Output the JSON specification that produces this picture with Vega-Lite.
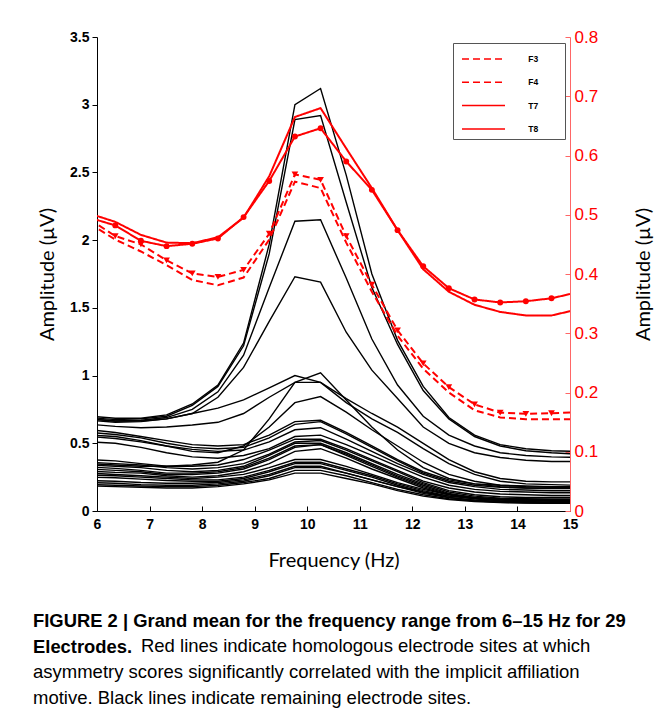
{
  "$schema": "https://vega.github.io/schema/vega-lite/v6.json",
  "width": 473,
  "height": 474,
  "autosize": {"type": "none"},
  "padding": {"left": 97, "top": 37, "right": 92, "bottom": 205},
  "background": "white",
  "config": {"view": {"stroke": null}, "axis": {"grid": false}},
  "title": {
    "text": ["FIGURE 2 | Grand mean for the frequency range from 6–15 Hz for 29", "Electrodes."],
    "subtitle": ["\u200b\u00a0\u00a0\u00a0\u00a0\u00a0\u00a0\u00a0\u00a0\u00a0\u00a0\u00a0\u00a0\u00a0\u00a0\u00a0\u00a0\u00a0\u00a0\u00a0\u00a0\u00a0Red lines indicate homologous electrode sites at which", "asymmetry scores significantly correlated with the implicit affiliation", "motive. Black lines indicate remaining electrode sites."],
    "orient": "bottom",
    "anchor": "start",
    "frame": "group",
    "dx": -64,
    "offset": 42,
    "font": "Liberation Sans",
    "fontSize": 18.4,
    "fontWeight": "bold",
    "lineHeight": 26,
    "color": "black",
    "subtitleFont": "Liberation Sans",
    "subtitleFontSize": 18.5,
    "subtitleFontWeight": "normal",
    "subtitleLineHeight": 26,
    "subtitleColor": "black",
    "subtitlePadding": -19
  },
  "data": {"values": [
    {"f":5.859,"L1":0.70,"L2":0.69,"L3":0.68,"L4":0.67,"M1":0.68,"M2":0.64,"M3":0.35,"M4":0.56,"N1":0.60,"N2":0.58,"N3":0.55,"N4":0.51,"P1":0.38,"P2":0.36,"P3":0.34,"P4":0.325,"P5":0.31,"P6":0.295,"P7":0.28,"P8":0.265,"P9":0.25,"P10":0.225,"P11":0.21,"P12":0.195,"P13":0.185,"F3":0.485,"F4":0.492,"T7":0.502,"T8":0.495},
    {"f":6.348,"L1":0.685,"L2":0.675,"L3":0.665,"L4":0.655,"M1":0.665,"M2":0.625,"M3":0.34,"M4":0.55,"N1":0.58,"N2":0.565,"N3":0.535,"N4":0.50,"P1":0.37,"P2":0.35,"P3":0.33,"P4":0.315,"P5":0.30,"P6":0.285,"P7":0.27,"P8":0.26,"P9":0.245,"P10":0.22,"P11":0.205,"P12":0.19,"P13":0.18,"F3":0.458,"F4":0.464,"T7":0.488,"T8":0.482},
    {"f":6.836,"L1":0.685,"L2":0.68,"L3":0.67,"L4":0.66,"M1":0.665,"M2":0.615,"M3":0.33,"M4":0.52,"N1":0.55,"N2":0.54,"N3":0.51,"N4":0.47,"P1":0.35,"P2":0.34,"P3":0.32,"P4":0.30,"P5":0.29,"P6":0.28,"P7":0.26,"P8":0.25,"P9":0.235,"P10":0.21,"P11":0.195,"P12":0.185,"P13":0.175,"F3":0.438,"F4":0.450,"T7":0.466,"T8":0.456},
    {"f":7.324,"L1":0.71,"L2":0.70,"L3":0.69,"L4":0.68,"M1":0.68,"M2":0.62,"M3":0.33,"M4":0.48,"N1":0.52,"N2":0.50,"N3":0.48,"N4":0.43,"P1":0.33,"P2":0.32,"P3":0.30,"P4":0.28,"P5":0.27,"P6":0.26,"P7":0.25,"P8":0.24,"P9":0.225,"P10":0.205,"P11":0.19,"P12":0.18,"P13":0.17,"F3":0.415,"F4":0.423,"T7":0.453,"T8":0.447},
    {"f":7.813,"L1":0.79,"L2":0.78,"L3":0.75,"L4":0.72,"M1":0.72,"M2":0.635,"M3":0.34,"M4":0.44,"N1":0.49,"N2":0.47,"N3":0.455,"N4":0.40,"P1":0.33,"P2":0.31,"P3":0.29,"P4":0.28,"P5":0.27,"P6":0.25,"P7":0.24,"P8":0.23,"P9":0.22,"P10":0.205,"P11":0.19,"P12":0.18,"P13":0.17,"F3":0.390,"F4":0.401,"T7":0.452,"T8":0.451},
    {"f":8.301,"L1":0.93,"L2":0.92,"L3":0.88,"L4":0.84,"M1":0.76,"M2":0.655,"M3":0.36,"M4":0.43,"N1":0.48,"N2":0.46,"N3":0.44,"N4":0.39,"P1":0.34,"P2":0.32,"P3":0.30,"P4":0.29,"P5":0.28,"P6":0.26,"P7":0.25,"P8":0.23,"P9":0.22,"P10":0.21,"P11":0.20,"P12":0.19,"P13":0.18,"F3":0.381,"F4":0.395,"T7":0.462,"T8":0.460},
    {"f":8.789,"L1":1.24,"L2":1.22,"L3":1.15,"L4":1.06,"M1":0.82,"M2":0.72,"M3":0.45,"M4":0.48,"N1":0.49,"N2":0.47,"N3":0.45,"N4":0.41,"P1":0.38,"P2":0.35,"P3":0.33,"P4":0.32,"P5":0.31,"P6":0.29,"P7":0.27,"P8":0.25,"P9":0.24,"P10":0.23,"P11":0.22,"P12":0.21,"P13":0.20,"F3":0.394,"F4":0.407,"T7":0.495,"T8":0.496},
    {"f":9.277,"L1":1.97,"L2":1.90,"L3":1.65,"L4":1.40,"M1":0.91,"M2":0.84,"M3":0.68,"M4":0.62,"N1":0.56,"N2":0.54,"N3":0.51,"N4":0.46,"P1":0.45,"P2":0.42,"P3":0.41,"P4":0.39,"P5":0.38,"P6":0.35,"P7":0.32,"P8":0.30,"P9":0.29,"P10":0.27,"P11":0.26,"P12":0.24,"P13":0.23,"F3":0.458,"F4":0.468,"T7":0.565,"T8":0.557},
    {"f":9.766,"L1":3.00,"L2":2.89,"L3":2.14,"L4":1.73,"M1":1.00,"M2":0.95,"M3":0.95,"M4":0.80,"N1":0.66,"N2":0.64,"N3":0.60,"N4":0.55,"P1":0.53,"P2":0.51,"P3":0.50,"P4":0.48,"P5":0.47,"P6":0.44,"P7":0.38,"P8":0.36,"P9":0.35,"P10":0.33,"P11":0.32,"P12":0.30,"P13":0.28,"F3":0.556,"F4":0.568,"T7":0.665,"T8":0.632},
    {"f":10.254,"L1":3.12,"L2":2.92,"L3":2.15,"L4":1.69,"M1":0.95,"M2":0.95,"M3":1.02,"M4":0.845,"N1":0.67,"N2":0.66,"N3":0.615,"N4":0.56,"P1":0.53,"P2":0.52,"P3":0.50,"P4":0.49,"P5":0.49,"P6":0.46,"P7":0.38,"P8":0.36,"P9":0.35,"P10":0.33,"P11":0.32,"P12":0.30,"P13":0.28,"F3":0.545,"F4":0.559,"T7":0.680,"T8":0.646},
    {"f":10.742,"L1":2.48,"L2":2.28,"L3":1.72,"L4":1.32,"M1":0.83,"M2":0.80,"M3":0.82,"M4":0.73,"N1":0.58,"N2":0.57,"N3":0.53,"N4":0.49,"P1":0.46,"P2":0.45,"P3":0.43,"P4":0.42,"P5":0.41,"P6":0.39,"P7":0.33,"P8":0.31,"P9":0.30,"P10":0.28,"P11":0.28,"P12":0.26,"P13":0.24,"F3":0.453,"F4":0.464,"T7":0.612,"T8":0.590},
    {"f":11.230,"L1":1.75,"L2":1.65,"L3":1.27,"L4":1.04,"M1":0.72,"M2":0.68,"M3":0.62,"M4":0.60,"N1":0.48,"N2":0.47,"N3":0.44,"N4":0.41,"P1":0.38,"P2":0.37,"P3":0.35,"P4":0.34,"P5":0.33,"P6":0.31,"P7":0.27,"P8":0.26,"P9":0.25,"P10":0.23,"P11":0.23,"P12":0.21,"P13":0.20,"F3":0.370,"F4":0.382,"T7":0.545,"T8":0.542},
    {"f":11.719,"L1":1.26,"L2":1.23,"L3":0.93,"L4":0.83,"M1":0.62,"M2":0.58,"M3":0.45,"M4":0.48,"N1":0.38,"N2":0.37,"N3":0.35,"N4":0.33,"P1":0.30,"P2":0.29,"P3":0.27,"P4":0.26,"P5":0.25,"P6":0.24,"P7":0.21,"P8":0.20,"P9":0.19,"P10":0.18,"P11":0.18,"P12":0.16,"P13":0.15,"F3":0.296,"F4":0.305,"T7":0.474,"T8":0.474},
    {"f":12.207,"L1":0.92,"L2":0.89,"L3":0.70,"L4":0.62,"M1":0.50,"M2":0.46,"M3":0.32,"M4":0.36,"N1":0.29,"N2":0.28,"N3":0.27,"N4":0.25,"P1":0.22,"P2":0.21,"P3":0.20,"P4":0.19,"P5":0.18,"P6":0.17,"P7":0.16,"P8":0.15,"P9":0.14,"P10":0.13,"P11":0.14,"P12":0.12,"P13":0.11,"F3":0.240,"F4":0.249,"T7":0.408,"T8":0.413},
    {"f":12.695,"L1":0.69,"L2":0.68,"L3":0.56,"L4":0.50,"M1":0.38,"M2":0.35,"M3":0.24,"M4":0.27,"N1":0.23,"N2":0.22,"N3":0.21,"N4":0.19,"P1":0.17,"P2":0.15,"P3":0.14,"P4":0.13,"P5":0.125,"P6":0.12,"P7":0.12,"P8":0.11,"P9":0.10,"P10":0.10,"P11":0.11,"P12":0.09,"P13":0.085,"F3":0.200,"F4":0.209,"T7":0.370,"T8":0.376},
    {"f":13.184,"L1":0.56,"L2":0.55,"L3":0.48,"L4":0.43,"M1":0.29,"M2":0.27,"M3":0.20,"M4":0.22,"N1":0.20,"N2":0.19,"N3":0.18,"N4":0.16,"P1":0.14,"P2":0.12,"P3":0.11,"P4":0.10,"P5":0.095,"P6":0.09,"P7":0.10,"P8":0.09,"P9":0.08,"P10":0.08,"P11":0.095,"P12":0.075,"P13":0.07,"F3":0.170,"F4":0.180,"T7":0.348,"T8":0.357},
    {"f":13.672,"L1":0.49,"L2":0.48,"L3":0.43,"L4":0.395,"M1":0.24,"M2":0.22,"M3":0.18,"M4":0.19,"N1":0.19,"N2":0.175,"N3":0.16,"N4":0.145,"P1":0.125,"P2":0.105,"P3":0.095,"P4":0.085,"P5":0.08,"P6":0.075,"P7":0.09,"P8":0.08,"P9":0.07,"P10":0.068,"P11":0.088,"P12":0.065,"P13":0.062,"F3":0.158,"F4":0.166,"T7":0.336,"T8":0.352},
    {"f":14.160,"L1":0.46,"L2":0.445,"L3":0.41,"L4":0.375,"M1":0.22,"M2":0.20,"M3":0.17,"M4":0.18,"N1":0.185,"N2":0.17,"N3":0.155,"N4":0.14,"P1":0.12,"P2":0.10,"P3":0.09,"P4":0.08,"P5":0.075,"P6":0.07,"P7":0.085,"P8":0.075,"P9":0.065,"P10":0.062,"P11":0.085,"P12":0.06,"P13":0.058,"F3":0.155,"F4":0.164,"T7":0.330,"T8":0.354},
    {"f":14.648,"L1":0.445,"L2":0.43,"L3":0.40,"L4":0.365,"M1":0.215,"M2":0.195,"M3":0.17,"M4":0.175,"N1":0.18,"N2":0.165,"N3":0.15,"N4":0.135,"P1":0.115,"P2":0.10,"P3":0.088,"P4":0.078,"P5":0.072,"P6":0.065,"P7":0.085,"P8":0.075,"P9":0.06,"P10":0.058,"P11":0.085,"P12":0.058,"P13":0.056,"F3":0.155,"F4":0.165,"T7":0.330,"T8":0.359},
    {"f":15.137,"L1":0.44,"L2":0.42,"L3":0.395,"L4":0.365,"M1":0.215,"M2":0.19,"M3":0.17,"M4":0.175,"N1":0.18,"N2":0.165,"N3":0.15,"N4":0.135,"P1":0.115,"P2":0.10,"P3":0.088,"P4":0.078,"P5":0.07,"P6":0.065,"P7":0.085,"P8":0.075,"P9":0.06,"P10":0.058,"P11":0.085,"P12":0.058,"P13":0.056,"F3":0.155,"F4":0.167,"T7":0.340,"T8":0.369}
  ]},
  "layer": [
    {
      "transform": [{"fold": ["L1","L2","L3","L4","M1","M2","M3","M4","N1","N2","N3","N4","P1","P2","P3","P4","P5","P6","P7","P8","P9","P10","P11","P12","P13"], "as": ["s","v"]}],
      "mark": {"type": "line", "color": "black", "strokeWidth": 1.4, "clip": true},
      "encoding": {
        "x": {"field": "f", "type": "quantitative", "scale": {"domain": [6,15], "nice": false, "zero": false},
          "axis": {"title": "Frequency (Hz)", "values": [6,7,8,9,10,11,12,13,14,15], "format": "d", "labelFlush": false, "labelOverlap": false,
            "tickSize": -5, "labelPadding": 11, "domainColor": "black", "tickColor": "black",
            "labelFont": "Liberation Sans", "labelFontSize": 14, "labelFontWeight": "bold", "labelColor": "black",
            "titleFont": "Lato", "titleFontSize": 20, "titleFontWeight": "normal", "titleColor": "black", "titlePadding": 19}},
        "y": {"field": "v", "type": "quantitative", "scale": {"domain": [0,3.5], "nice": false, "zero": false},
          "axis": {"orient": "left", "title": "Amplitude (µV)", "values": [0,0.5,1,1.5,2,2.5,3,3.5], "format": "~g", "labelOverlap": false,
            "tickSize": 5, "labelPadding": 3, "domainColor": "black", "tickColor": "black",
            "labelFont": "Liberation Sans", "labelFontSize": 14, "labelFontWeight": "bold", "labelColor": "black",
            "titleFont": "Lato", "titleFontSize": 20, "titleFontWeight": "normal", "titleColor": "black", "titlePadding": 12}},
        "detail": {"field": "s", "type": "nominal"}
      }
    },
    {
      "transform": [{"fold": ["F3","F4","T7","T8"], "as": ["s","v"]}],
      "mark": {"type": "line", "color": "#ff0000", "strokeWidth": 2, "clip": true},
      "encoding": {
        "x": {"field": "f", "type": "quantitative"},
        "y": {"field": "v", "type": "quantitative", "scale": {"domain": [0,0.8], "nice": false, "zero": false},
          "axis": {"orient": "right", "title": "Amplitude (µV)", "titleAngle": 270, "titleBaseline": "top", "values": [0,0.1,0.2,0.3,0.4,0.5,0.6,0.7,0.8], "format": "~g", "labelOverlap": false,
            "tickSize": -5, "labelPadding": 9, "domainColor": "#ff6666", "tickColor": "#ff6666",
            "labelFont": "Liberation Sans", "labelFontSize": 17, "labelFontWeight": "normal", "labelColor": "#ff0000",
            "titleFont": "Lato", "titleFontSize": 20, "titleFontWeight": "normal", "titleColor": "black", "titlePadding": 36}},
        "strokeDash": {"field": "s", "type": "nominal", "scale": {"domain": ["F3","F4","T7","T8"], "range": [[7,4],[7,4],[1,0],[1,0]]},
          "legend": {"title": null, "orient": "none", "legendX": 356, "legendY": 6, "padding": 5, "rowPadding": 7.3,
            "symbolSize": 400, "symbolOffset": 14.5, "labelOffset": 33.7, "symbolType": "M-2.15,0H2.15",
            "labelFont": "Liberation Sans", "labelFontSize": 8.5, "labelFontWeight": "bold", "labelColor": "black",
            "strokeColor": "#555555", "fillColor": "white",
            "symbolStrokeWidth": 1.5, "symbolStrokeColor": "#ff0000", "symbolOpacity": 1,
            "labelExpr": "datum.label + '\u00a0\u00a0\u00a0\u00a0\u00a0\u00a0\u00a0\u00a0\u00a0\u200b'"}
        }
      }
    },
    {
      "transform": [{"fold": ["F4"], "as": ["s","v"]}],
      "mark": {"type": "point", "shape": "triangle-down", "filled": true, "color": "#ff0000", "size": 45, "opacity": 1, "clip": true},
      "encoding": {
        "x": {"field": "f", "type": "quantitative"},
        "y": {"field": "v", "type": "quantitative", "scale": {"domain": [0,0.8], "nice": false, "zero": false}, "axis": null}
      }
    },
    {
      "transform": [{"fold": ["T8"], "as": ["s","v"]}],
      "mark": {"type": "point", "shape": "circle", "filled": true, "color": "#ff0000", "size": 35, "opacity": 1, "clip": true},
      "encoding": {
        "x": {"field": "f", "type": "quantitative"},
        "y": {"field": "v", "type": "quantitative", "scale": {"domain": [0,0.8], "nice": false, "zero": false}, "axis": null}
      }
    }
  ],
  "resolve": {"scale": {"y": "independent"}}
}
